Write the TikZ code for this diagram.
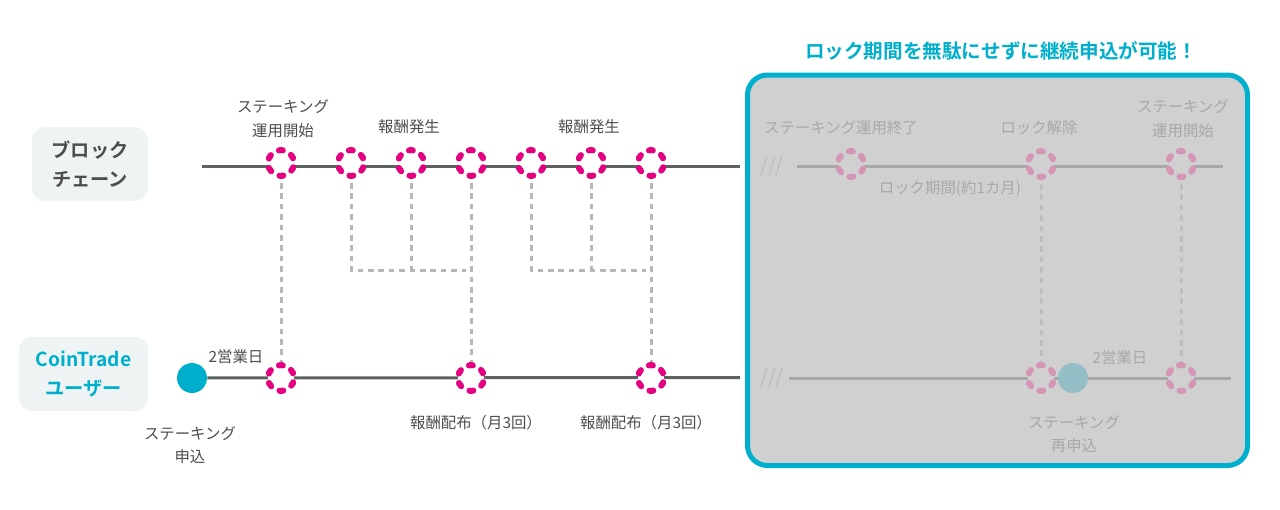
\documentclass[tikz,border=0pt]{standalone}
\usepackage{fontspec}
\setmainfont{Noto Sans CJK JP}[BoldFont={Noto Sans CJK JP Bold}]
\definecolor{chainline}{HTML}{5B625F}
\definecolor{accent}{HTML}{E4007F}
\definecolor{lightpink}{HTML}{D596B5}
\definecolor{brand}{HTML}{00AFCC}
\definecolor{fadebrand}{HTML}{93BEC6}
\definecolor{linkgray}{HTML}{B4B8B8}
\definecolor{fadelinkgray}{HTML}{BEBEBE}
\definecolor{panelgray}{HTML}{D0D0D0}
\definecolor{fadegray}{HTML}{A8A8A8}
\definecolor{labeltext}{HTML}{4D4D4D}
\definecolor{tagfill}{HTML}{EEF3F3}
\tikzset{
  ring/.style={circle, draw=accent, fill=white, line width=3pt, minimum size=13pt, inner sep=0pt,
    line cap=round, dash pattern=on 2pt off 4.807pt, dash phase=4.404pt},
  fadering/.style={ring, draw=lightpink, fill=panelgray},
  dot/.style={circle, fill=brand, minimum size=15pt, inner sep=0pt},
  fadedot/.style={dot, fill=fadebrand},
  chain/.style={draw=chainline, line width=1.5pt},
  fadechain/.style={draw=fadegray, line width=1.5pt},
  link/.style={draw=linkgray, line width=1.5pt, dash pattern=on 2.8pt off 2.4pt},
  fadelink/.style={link, draw=fadelinkgray},
  lbl/.style={text=labeltext, font=\fontsize{7.7}{11.8}\selectfont, align=center, inner sep=0pt},
  fadelbl/.style={lbl, text=fadegray},
  tag/.style={fill=tagfill, rounded corners=6.5pt, font=\bfseries\fontsize{9.6}{14.5}\selectfont,
    align=center, minimum height=37pt, inner sep=0pt},
  slash/.style={text=fadelinkgray, font=\fontsize{10}{12}\selectfont, inner sep=0pt},
}
\begin{document}
\begin{tikzpicture}[x=0.5pt, y=-0.5pt]
  \useasboundingbox (0,0) rectangle (1280,509);

  \node[tag, text=labeltext, minimum width=58pt] (chaintag) at (90,164) {ブロック\\チェーン};
  \node[tag, text=brand, minimum width=64.5pt] (usertag) at (83.5,374) {CoinTrade\\ユーザー};

  \coordinate (bcL) at (202,166);
  \coordinate (bcR) at (740,166);
  \draw[chain] (bcL) -- (bcR);
  \node[dot] (us0) at (192,378) {};
  \coordinate (usR) at (740,377.5);
  \draw[chain] (us0) -- (usR);

  \foreach \x [count=\i] in {281,351,411,471,531,591,651}
    \node[ring] (bc\i) at (\x,163) {};
  \node[ring] (us1) at (281,378) {};
  \node[ring] (us2) at (471,378) {};
  \node[ring] (us3) at (651,378) {};

  \draw[link, shorten <=2pt] (bc1) -- (us1);
  \draw[link, shorten <=2pt] (bc4) -- (us2);
  \draw[link, shorten <=2pt] (bc7) -- (us3);
  \coordinate (m1) at (466,270);
  \coordinate (m2) at (646,270);
  \draw[link, shorten <=2pt] (bc2) |- (m1);
  \draw[link, shorten <=2pt] (bc3) -- (bc3 |- m1);
  \draw[link, shorten <=2pt] (bc5) |- (m2);
  \draw[link, shorten <=2pt] (bc6) -- (bc6 |- m2);

  \node[lbl] (startlbl) at (283,118.5) {ステーキング\\運用開始};
  \node[lbl] (gen1) at (409,127) {報酬発生};
  \node[lbl] (gen2) at (589,127) {報酬発生};
  \node[lbl] (days) at (236,357) {2営業日};
  \node[lbl] (apply) at (190,445) {ステーキング\\申込};
  \node[lbl] (pay1) at (476,423) {報酬配布（月3回）};
  \node[lbl] (pay2) at (646,423) {報酬配布（月3回）};

  \node[font=\bfseries\fontsize{9.8}{12}\selectfont, text=brand, inner sep=0pt] (head) at (1001,51)
    {ロック期間を無駄にせずに継続申込が可能！};
  \node[draw=brand, fill=panelgray, line width=2.5pt, rounded corners=10pt, inner sep=0pt,
    minimum width=250pt, minimum height=195.25pt] (panel) at (997.5,270.25) {};

  \node[slash] (sl1) at (772,166) {///};
  \node[slash] (sl2) at (772,378) {///};
  \coordinate (rbcL) at (797,166);
  \coordinate (rbcR) at (1223,166);
  \draw[fadechain] (rbcL) -- (rbcR);
  \coordinate (rusL) at (789,378);
  \coordinate (rusR) at (1231,378);
  \draw[fadechain] (rusL) -- (rusR);

  \node[fadering] (rbc1) at (851,164) {};
  \node[fadering] (rbc2) at (1041,164) {};
  \node[fadering] (rbc3) at (1181,164) {};
  \node[fadering] (rus1) at (1041,378) {};
  \node[fadering] (rus2) at (1181,378) {};
  \node[fadedot] (rdot) at (1073,378) {};

  \draw[fadelink, shorten <=2pt] (rbc2) -- (rus1);
  \draw[fadelink, shorten <=2pt] (rbc3) -- (rus2);

  \node[fadelbl] (endlbl) at (841,128) {ステーキング運用終了};
  \node[fadelbl] (unlock) at (1039,128) {ロック解除};
  \node[fadelbl] (restart) at (1183,118.5) {ステーキング\\運用開始};
  \node[fadelbl] (lockspan) at (950,189) {ロック期間(約1カ月)};
  \node[fadelbl] (rdays) at (1120,358) {2営業日};
  \node[fadelbl] (reapply) at (1074,434) {ステーキング\\再申込};
\end{tikzpicture}
\end{document}
